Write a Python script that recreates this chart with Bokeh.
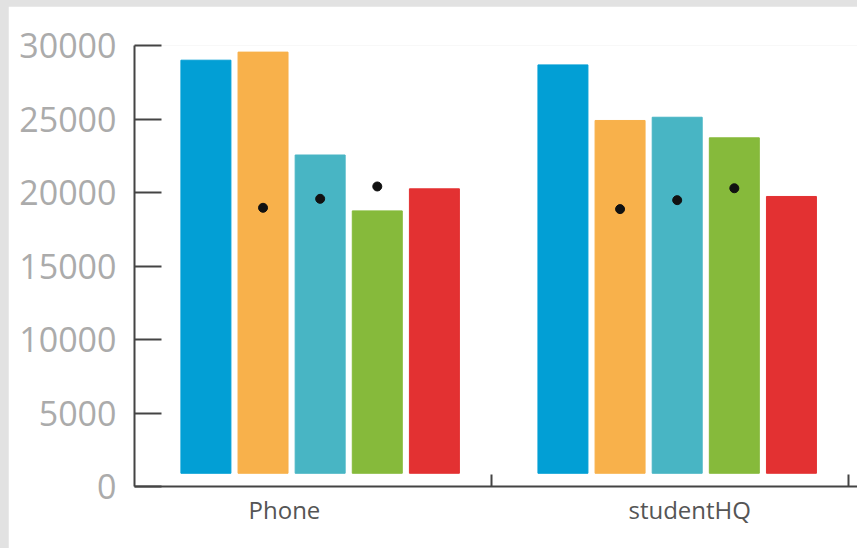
from bokeh.plotting import figure
from bokeh.models import ColumnDataSource, Range1d, FixedTicker, Spacer
from bokeh.layouts import column, row
from bokeh.embed import file_html
from bokeh.resources import INLINE

# ---- data ----
groups = ["Phone", "studentHQ"]
series_colors = ["#029fd5", "#f8b14b", "#48b5c4", "#86ba3b", "#e33132"]
phone_values = [29000, 29550, 22550, 18750, 20250]
studenthq_values = [28680, 24900, 25120, 23720, 19730]
phone_dots = [None, 18960, 19570, 20410, None]
studenthq_dots = [None, 18870, 19480, 20290, None]
y_ticks = [0, 5000, 10000, 15000, 20000, 25000, 30000]

# ---- layout constants ----
group_center = 0.52
series_step = 0.16
bar_width = 0.14
bar_bottom = 900

xs, tops, colors, dx, dy = [], [], [], [], []
for gi, vals in enumerate([phone_values, studenthq_values]):
    dots = [phone_dots, studenthq_dots][gi]
    for si, v in enumerate(vals):
        x = gi + group_center + (si - 2) * series_step
        xs.append(x)
        tops.append(v)
        colors.append(series_colors[si])
        if dots[si] is not None:
            dx.append(x)
            dy.append(dots[si])

bars = ColumnDataSource(dict(x=xs, top=tops, color=colors))
pts = ColumnDataSource(dict(x=dx, y=dy))

fig = figure(width=849, height=542, x_range=Range1d(0, 2.025), y_range=Range1d(0, 30000),
             output_backend="svg", toolbar_location=None,
             min_border_left=126, min_border_right=0, min_border_top=39, min_border_bottom=62)
fig.outline_line_color = None
fig.xgrid.visible = False
fig.ygrid.visible = False
fig.background_fill_color = "white"
fig.border_fill_color = "white"

fig.vbar(x="x", top="top", bottom=bar_bottom, width=bar_width, color="color", source=bars)
fig.scatter(x="x", y="y", source=pts, size=9, color="#111111")

# y axis
ya = fig.yaxis[0]
ya.ticker = FixedTicker(ticks=y_ticks)
ya.axis_line_color = "#444444"
ya.axis_line_width = 2
ya.major_tick_line_color = "#444444"
ya.major_tick_line_width = 2
ya.major_tick_in = 27
ya.major_tick_out = 0
ya.minor_tick_line_color = None
ya.major_label_text_font = "Open Sans"
ya.major_label_text_font_size = "34px"
ya.major_label_text_color = "#ababab"
ya.major_label_standoff = 18

# x axis: labels at label positions, boundary marks as minor ticks
label_pos = [0.42, 1.555]
xa = fig.xaxis[0]
xa.ticker = FixedTicker(ticks=label_pos, minor_ticks=[1, 2])
xa.major_label_overrides = {label_pos[i]: groups[i] for i in range(len(groups))}
xa.axis_line_color = "#444444"
xa.axis_line_width = 2
xa.major_tick_line_color = None
xa.major_tick_in = 0
xa.major_tick_out = 0
xa.minor_tick_line_color = "#444444"
xa.minor_tick_line_width = 2
xa.minor_tick_in = 12
xa.minor_tick_out = 0
xa.major_label_text_font = "Open Sans"
xa.major_label_text_font_size = "24px"
xa.major_label_text_color = "#555555"
xa.major_label_standoff = 6

p = column(Spacer(width=857, height=6),
           row(Spacer(width=8, height=542), fig),
           styles={"background-color": "#e2e2e2"})

open("out.html", "w").write(file_html(p, INLINE))
